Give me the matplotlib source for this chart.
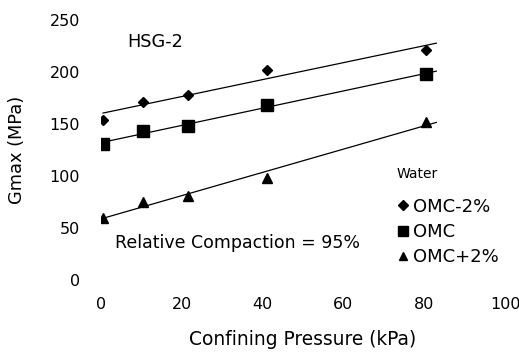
import matplotlib.pyplot as plt
import numpy as np

plt.rcParams['font.family'] = ['DejaVu Sans']

# confining pressure (kPa) as plotted
pressure = [0.5, 10.5, 21.5, 41, 80.5]

# Gmax (MPa)
omc_minus2 = [154, 171, 178, 202, 221]
omc = [131, 143, 148, 168, 198]
omc_plus2 = [60, 75, 81, 98, 152]

labels = ['OMC-2%', 'OMC', 'OMC+2%']
markers = ['D', 's', '^']
msizes = [5.5, 8, 6.5]

fig = plt.figure(figsize=(5.19, 3.58), dpi=100)
ax = fig.add_axes([101 / 519, 78 / 358, 404 / 519, 260 / 358])

x = np.array(pressure)
xfit = np.array([0.5, 83])
for y, lab, m, ms in zip([omc_minus2, omc, omc_plus2], labels, markers, msizes):
    ax.plot(x, y, m, color='black', markersize=ms, label=lab, zorder=3)
    k, b = np.polyfit(x, y, 1)
    ax.plot(xfit, k * xfit + b, '-', color='black', linewidth=0.9)

ax.set_xlim(0, 100)
ax.set_ylim(0, 250)
ax.set_xticks([0, 20, 40, 60, 80, 100])
ax.set_yticks([0, 50, 100, 150, 200, 250])
ax.tick_params(axis='both', length=0, labelsize=11.5)
ax.tick_params(axis='x', pad=12)
ax.tick_params(axis='y', pad=15)
for s in ax.spines.values():
    s.set_visible(False)

# faint scanned baseline
ax.axhline(0, color='#bbbbbb', linewidth=0.6, linestyle=(0, (2, 6)))

ax.set_xlabel('Confining Pressure (kPa)', fontsize=13.4, labelpad=13)
ax.set_ylabel('Gmax (MPa)', fontsize=12.8, labelpad=17)

ax.text(6.4, 229, 'HSG-2', fontsize=12.8, va='center', ha='left')
ax.text(3.5, 35.5, 'Relative Compaction = 95%', fontsize=12.5, va='center', ha='left')

leg = ax.legend(loc='upper left', bbox_to_anchor=(397 / 519, 1 - 167 / 358),
                bbox_transform=fig.transFigure, frameon=False, title='Water',
                fontsize=13, title_fontsize=10, handlelength=0.7, handletextpad=0.2,
                labelspacing=0.4, borderpad=0, borderaxespad=0, alignment='left',
                markerscale=0.9)
# wider gap between title and entries
leg._legend_box.sep = 12

fig.savefig('out.png', dpi=100)
